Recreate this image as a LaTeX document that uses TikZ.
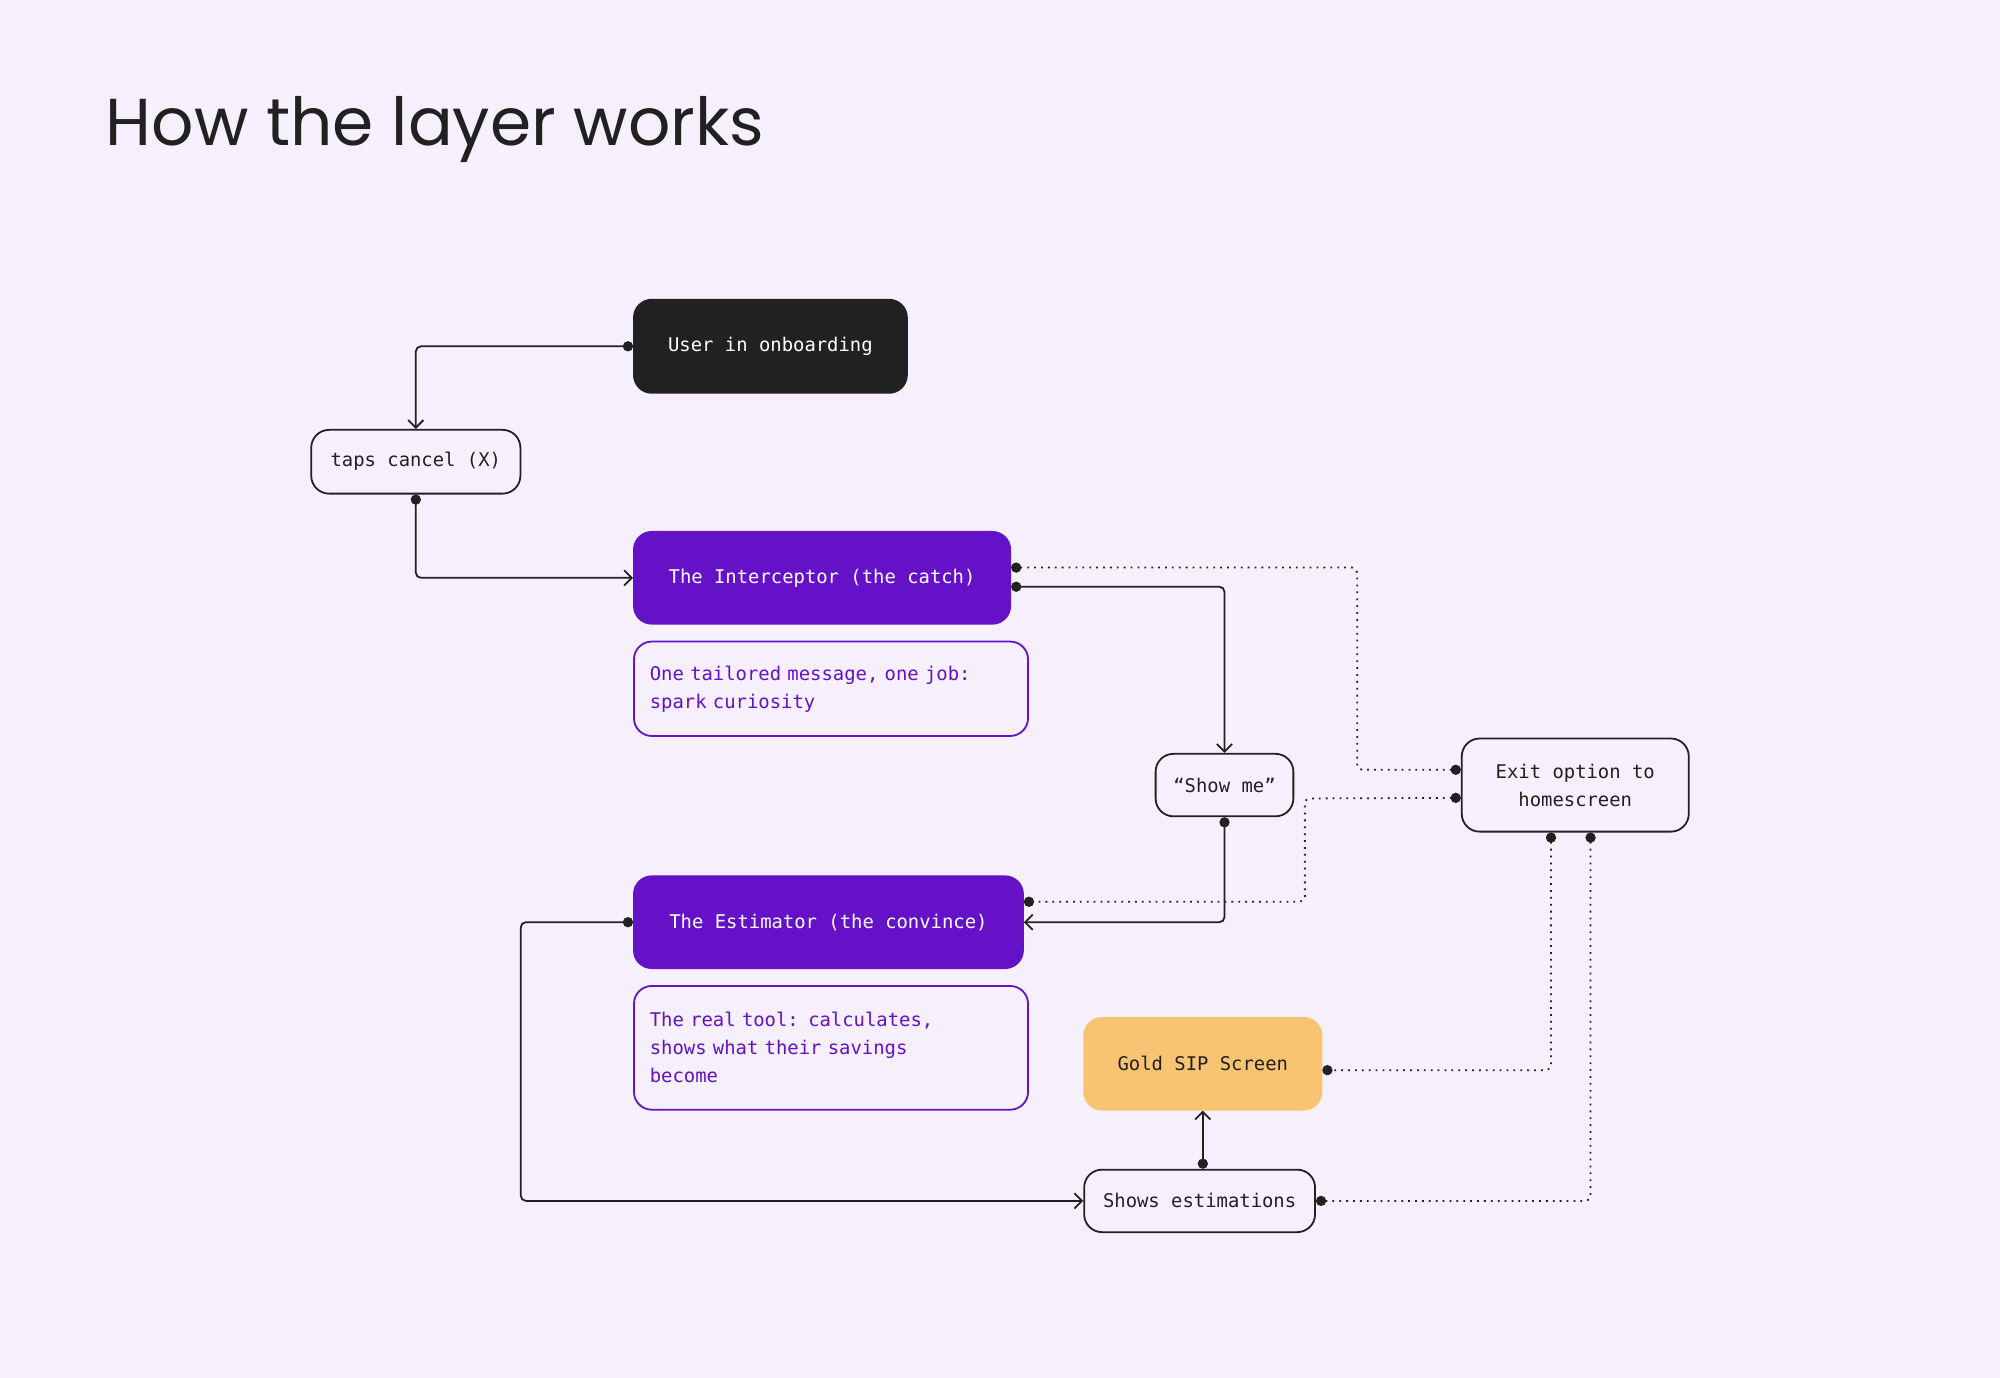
\documentclass[tikz,border=0pt]{standalone}
\usepackage{fontspec}
\setmainfont{Poppins}
\setmonofont{DejaVu Sans Mono}
\usetikzlibrary{calc, arrows.meta, positioning}
\definecolor{bgcol}{HTML}{F5F0FC}
\definecolor{inkcol}{HTML}{212121}
\definecolor{purplecol}{HTML}{6411C8}
\definecolor{goldcol}{HTML}{F8C471}
\tikzset{
    boxnode/.style = {draw=inkcol, rectangle, rounded corners=7pt, line width=0.7pt, fill=bgcol,
      inner sep=0pt, text=inkcol, font=\ttfamily\fontsize{7.4}{11}\selectfont, align=center},
    darknode/.style = {boxnode, fill=inkcol, draw=inkcol, text=white},
    purplenode/.style = {boxnode, fill=purplecol, draw=purplecol, text=white},
    notenode/.style = {boxnode, draw=purplecol, text=purplecol, align=left, text width=#1},
    goldnode/.style = {boxnode, fill=goldcol, draw=goldcol},
    flow/.style = {inkcol, line width=0.7pt, rounded corners=2pt, {Circle[length=4pt]}-{Straight Barb[length=3pt,width=6pt]}},
    exitflow/.style = {inkcol, line width=0.7pt, dotted, rounded corners=2pt, {Circle[length=4pt]}-{Circle[length=4pt]}}
}
\begin{document}
\begin{tikzpicture}[x=0.5pt, y=-0.5pt]
    \fill[bgcol] (0,0) rectangle (1568,1080);
    \useasboundingbox (0,0) rectangle (1568,1080);

    \node [anchor=base west, text=inkcol, font=\fontsize{26}{30}\selectfont] (title) at (76,114) {How the layer works};

    % main column
    \node [name=user, darknode, minimum width=107pt, minimum height=36.5pt] at (604,271.5) {User in onboarding};
    \node [name=taps, boxnode, minimum width=82pt, minimum height=25pt] at (326,362) {taps cancel (X)};
    \node [name=interceptor, purplenode, minimum width=147.5pt, minimum height=36pt] at (644.5,453) {The Interceptor (the catch)};
    \node [name=note1, notenode=142pt, minimum width=154.5pt, minimum height=37pt] at (651.5,540)
        {One tailored message, one job:\\spark curiosity};
    \node [name=show, boxnode, minimum width=54pt, minimum height=24.5pt] at (960,615.5) {“Show me”};
    \node [name=exit, boxnode, minimum width=89pt, minimum height=36.5pt] at (1235,615.5) {Exit option to\\homescreen};
    \node [name=estimator, purplenode, minimum width=152.5pt, minimum height=36pt] at (649.5,723) {The Estimator (the convince)};
    \node [name=note2, notenode=142pt, minimum width=154.5pt, minimum height=48.5pt] at (651.5,821.5)
        {The real tool: calculates,\\shows what their savings\\become};
    \node [name=gold, goldnode, minimum width=93pt, minimum height=36pt] at (943,834) {Gold SIP Screen};
    \node [name=estim, boxnode, minimum width=90.5pt, minimum height=24.5pt] at (940.5,941.5) {Shows estimations};

    % solid flow
    \draw [flow] (user.west) -| (taps.north);
    \draw [flow] (taps.south) |- (interceptor.west);
    \draw [flow] ([yshift=-3.5pt]interceptor.east) -| (show.north);
    \draw [flow] (show.south) |- (estimator.east);
    \draw [flow] (estimator.west) -- ++(-88,0) |- (estim.west);
    \draw [flow] (estim.north -| gold.south) -- (gold.south);

    % exits
    \draw [exitflow] ([yshift=4pt]interceptor.east) -- (1064,445) |- ([yshift=6pt]exit.west);
    \draw [exitflow] ([yshift=-5pt]exit.west) -- (1023,626) |- ([yshift=8pt]estimator.east);
    \draw [exitflow] ([xshift=-9.5pt]exit.south) |- ([yshift=-2.5pt]gold.east);
    \draw [exitflow] ([xshift=6pt]exit.south) |- (estim.east);
\end{tikzpicture}
\end{document}
